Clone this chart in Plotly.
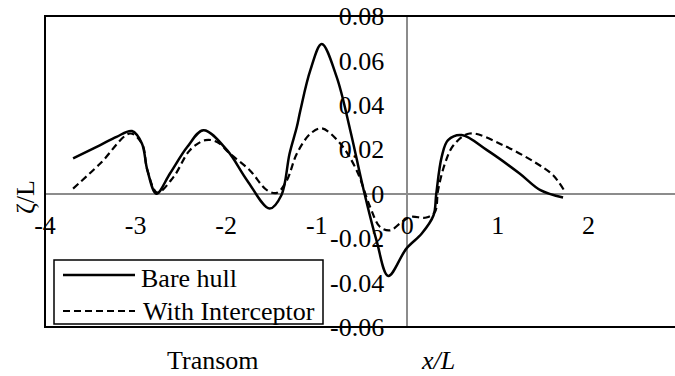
import plotly.graph_objects as go

# ---- data ----
bare_x = [-3.69, -3.39, -3.21, -3.04, -2.93, -2.87, -2.77, -2.62, -2.43, -2.25, -1.99, -1.77, -1.52, -1.39,
          -1.30, -1.22, -1.18, -1.07, -0.945, -0.78, -0.63, -0.49, -0.34, -0.21, -0.01, 0.16, 0.29,
          0.32, 0.38, 0.45, 0.60, 0.88, 1.24, 1.47, 1.72]
bare_y = [0.0159, 0.0219, 0.0256, 0.0282, 0.0226, 0.0106, 0.0, 0.0091, 0.021, 0.0286, 0.0196, 0.0061, -0.0067, -0.0007,
          0.018, 0.030, 0.0376, 0.0556, 0.0674, 0.0526, 0.0286, 0.0031, -0.021, -0.037, -0.0247, -0.0179, -0.0097,
          0.0, 0.0166, 0.0241, 0.0264, 0.0196, 0.0091, 0.0016, -0.0017]

int_x = [-3.69, -3.39, -3.06, -2.93, -2.87, -2.76, -2.58, -2.40, -2.23, -2.10, -1.96, -1.74, -1.55, -1.44,
         -1.33, -1.22, -1.07, -0.945, -0.74, -0.56, -0.41, -0.30, -0.19, -0.08, 0.03, 0.21, 0.305, 0.34,
         0.416, 0.51, 0.69, 1.06, 1.43, 1.61, 1.73]
int_y = [0.0023, 0.0136, 0.0271, 0.0226, 0.0106, 0.0005, 0.0076, 0.0196, 0.0241, 0.0233, 0.0181, 0.0106, 0.0016, 0.0004,
         0.006, 0.018, 0.027, 0.0294, 0.0226, 0.0106, -0.006, -0.015, -0.0165, -0.0134, -0.0105, -0.0107, -0.0082, 0.0016,
         0.0136, 0.0218, 0.0271, 0.0218, 0.0136, 0.0083, 0.0016]

x_ticks = [-4, -3, -2, -1, 0, 1, 2, 3]
x_ticktext = ["-4", "-3", "-2", "-1", "0", "1", "2", "3"]
y_ticks = [-0.06, -0.04, -0.02, 0, 0.02, 0.04, 0.06, 0.08]
y_ticktext = ["-0.06", "-0.04", "-0.02", "0", "0.02", "0.04", "0.06", "0.08"]

series_names = ["Bare hull", "With Interceptor"]

FONT = "Liberation Serif"
FS = 26
DASH = "7px,4px"
W, H = 680, 376
ML, MT, MB, MR = 45, 16, 49, 1
x_range = [-4, 3]
y_range = [-0.06, 0.08]
PW, PH = W - ML - MR, H - MT - MB

fig = go.Figure()
fig.add_trace(go.Scatter(x=bare_x, y=bare_y, mode="lines", name=series_names[0], showlegend=False,
                         line=dict(color="black", width=2.5, shape="spline", smoothing=1.0)))
fig.add_trace(go.Scatter(x=int_x, y=int_y, mode="lines", name=series_names[1], showlegend=False,
                         line=dict(color="black", width=2.2, dash=DASH, shape="spline", smoothing=1.0)))

x_pos = (0 - y_range[0]) / (y_range[1] - y_range[0])
y_pos = (0 - x_range[0]) / (x_range[1] - x_range[0])


def px(xp):
    return (xp - ML) / PW


def py(yp):
    return (H - MB - yp) / PH


tfont = dict(family=FONT, size=FS, color="black")

# hand-made legend box (matches the reference's compact box)
legend_shapes = [
    dict(type="rect", xref="paper", yref="paper", x0=px(54), x1=px(323), y0=py(324), y1=py(260),
         line=dict(color="black", width=1.5), fillcolor="white", layer="above"),
    dict(type="line", xref="paper", yref="paper", x0=px(63), x1=px(135), y0=py(275), y1=py(275),
         line=dict(color="black", width=2.5), layer="above"),
    dict(type="line", xref="paper", yref="paper", x0=px(63), x1=px(135), y0=py(311), y1=py(311),
         line=dict(color="black", width=2.2, dash=DASH), layer="above"),
]
legend_texts = [
    dict(text=series_names[0], xref="paper", yref="paper", x=px(139), y=py(278),
         showarrow=False, xanchor="left", yanchor="middle", font=tfont),
    dict(text=series_names[1], xref="paper", yref="paper", x=px(141), y=py(311),
         showarrow=False, xanchor="left", yanchor="middle", font=tfont),
]

fig.update_layout(
    width=W, height=H,
    margin=dict(l=ML, r=MR, t=MT, b=MB, pad=0),
    plot_bgcolor="white", paper_bgcolor="white",
    font=tfont,
    showlegend=False,
    xaxis=dict(range=x_range, anchor="free", position=x_pos, tickvals=x_ticks, ticktext=x_ticktext,
               showgrid=False, zeroline=True, zerolinecolor="#8c8c8c", zerolinewidth=1.5,
               showline=False, ticks="", ticklabelstandoff=13, tickfont=tfont),
    yaxis=dict(range=y_range, anchor="free", position=y_pos, tickvals=y_ticks, ticktext=y_ticktext,
               showgrid=False, zeroline=True, zerolinecolor="#8c8c8c", zerolinewidth=1.5,
               showline=False, ticks="", ticklabelstandoff=23, tickfont=tfont),
    shapes=[dict(type="rect", xref="paper", yref="paper", x0=0, x1=1.05, y0=0, y1=1,
                 line=dict(color="black", width=2), layer="above")] + legend_shapes,
    annotations=[
        dict(text="Transom", xref="paper", yref="paper", x=px(213), y=py(360.5),
             showarrow=False, xanchor="center", yanchor="middle", font=tfont),
        dict(text="<i>x/L</i>", xref="paper", yref="paper", x=px(438), y=py(360.5),
             showarrow=False, xanchor="center", yanchor="middle", font=tfont),
        dict(text="ζ/L", xref="paper", yref="paper", x=px(25), y=py(197),
             showarrow=False, textangle=-90, xanchor="center", yanchor="middle", font=tfont),
    ] + legend_texts,
)

fig.write_html("out.html", config={"displayModeBar": False},
               post_script="document.body.style.margin='0';document.body.style.overflow='hidden';"
                           "document.documentElement.style.overflow='hidden';")
